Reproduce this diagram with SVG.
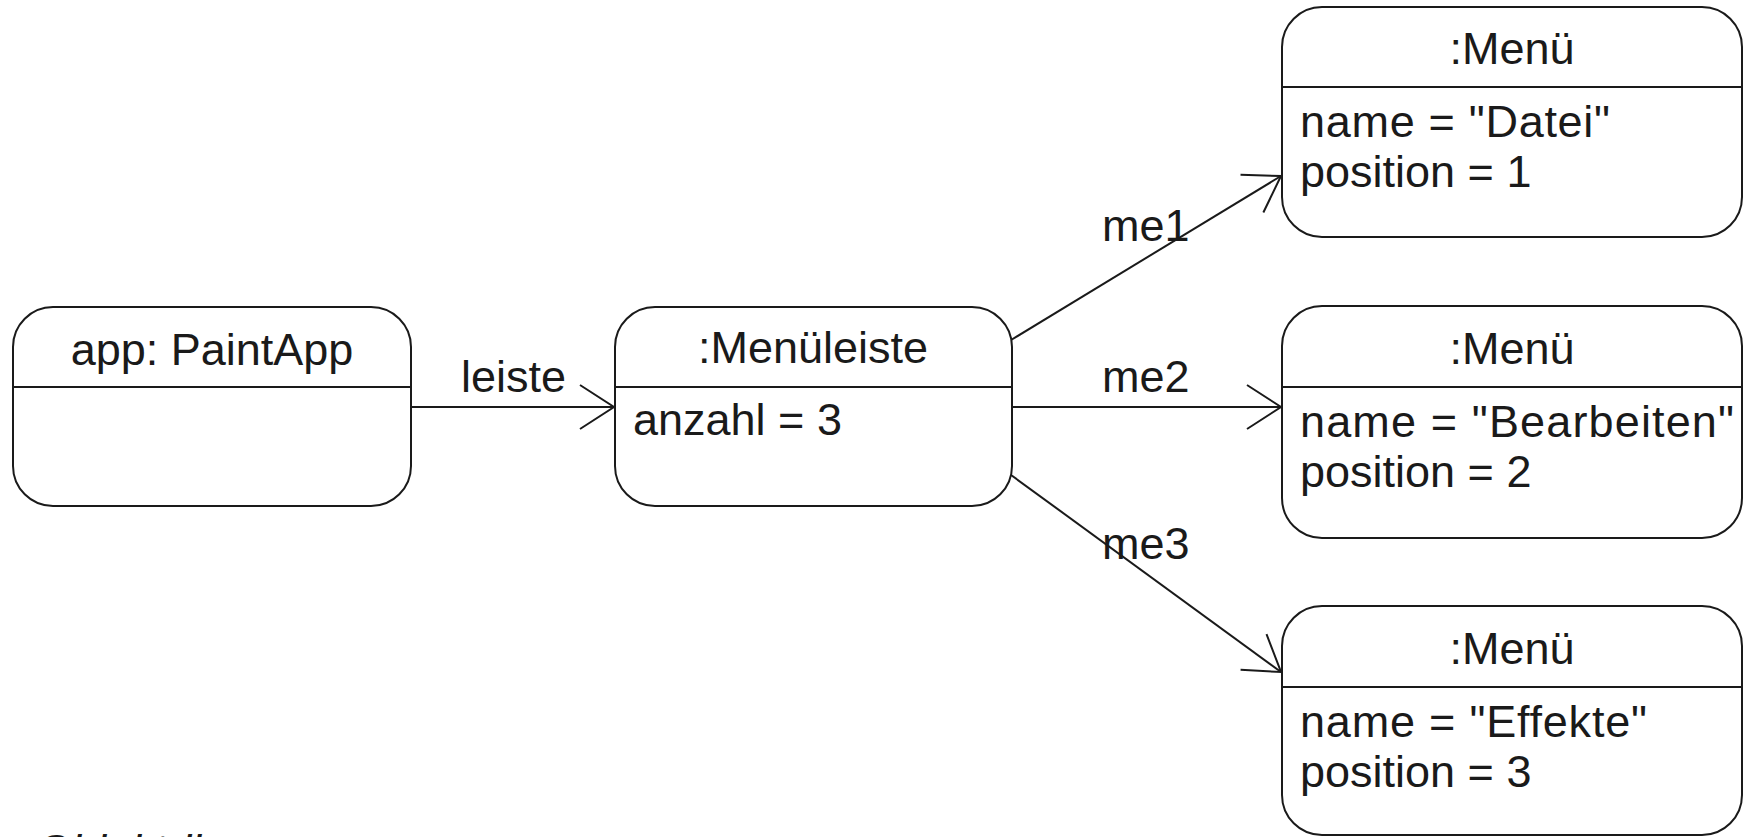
<svg xmlns="http://www.w3.org/2000/svg" width="1743" height="837" viewBox="0 0 1743 837">
  <style>
    .box { fill: #ffffff; stroke: #1a1a1a; stroke-width: 2; }
    .div { stroke: #1a1a1a; stroke-width: 2; }
    .t { font-family: "Liberation Sans", Arial, sans-serif; font-size: 45px; fill: #1a1a1a; }
    .c { text-anchor: middle; }
    .edge { stroke: #1a1a1a; stroke-width: 2; fill: none; marker-end: url(#open); }
  </style>
  <defs>
    <marker id="open" markerUnits="userSpaceOnUse" markerWidth="50" markerHeight="50" refX="0" refY="0" viewBox="-40 -25 44 50" orient="auto" overflow="visible">
      <path d="M -34 -22 L 0 0 L -34 22" fill="none" stroke="#1a1a1a" stroke-width="2"/>
    </marker>
  </defs>
  <rect width="1743" height="837" fill="#ffffff"/>

  <g id="connectors">
    <line class="edge" x1="411" y1="407" x2="614" y2="407"/>
    <line class="edge" x1="1011" y1="340" x2="1281" y2="176"/>
    <line class="edge" x1="1012" y1="407" x2="1281" y2="407"/>
    <line class="edge" x1="1011" y1="475" x2="1281" y2="672"/>
    <text class="t" x="461" y="392">leiste</text>
    <text class="t" x="1102" y="241">me1</text>
    <text class="t" x="1102" y="392">me2</text>
    <text class="t" x="1102" y="559">me3</text>
  </g>

  <g id="app">
    <rect class="box" x="13" y="307" width="398" height="199" rx="40" ry="40"/>
    <line class="div" x1="13" y1="387" x2="411" y2="387"/>
    <text class="t c" x="212" y="365">app: PaintApp</text>
  </g>

  <g id="menueleiste">
    <rect class="box" x="615" y="307" width="397" height="199" rx="40" ry="40"/>
    <line class="div" x1="615" y1="387" x2="1012" y2="387"/>
    <text class="t c" x="813" y="363">:Menüleiste</text>
    <text class="t" x="633" y="435">anzahl = 3</text>
  </g>

  <g id="menue1">
    <rect class="box" x="1282" y="7" width="460" height="230" rx="40" ry="40"/>
    <line class="div" x1="1282" y1="87" x2="1742" y2="87"/>
    <text class="t c" x="1512" y="64">:Menü</text>
    <text class="t" x="1300" y="137" textLength="310" lengthAdjust="spacing">name = "Datei"</text>
    <text class="t" x="1300" y="187">position = 1</text>
  </g>

  <g id="menue2">
    <rect class="box" x="1282" y="306" width="460" height="232" rx="40" ry="40"/>
    <line class="div" x1="1282" y1="387" x2="1742" y2="387"/>
    <text class="t c" x="1512" y="364">:Menü</text>
    <text class="t" x="1300" y="437" textLength="434" lengthAdjust="spacing">name = "Bearbeiten"</text>
    <text class="t" x="1300" y="487">position = 2</text>
  </g>

  <g id="menue3">
    <rect class="box" x="1282" y="606" width="460" height="229" rx="40" ry="40"/>
    <line class="div" x1="1282" y1="687" x2="1742" y2="687"/>
    <text class="t c" x="1512" y="664">:Menü</text>
    <text class="t" x="1300" y="737" textLength="347" lengthAdjust="spacing">name = "Effekte"</text>
    <text class="t" x="1300" y="787">position = 3</text>
  </g>

  <text class="t" x="36" y="866" font-style="italic">Objektdiagramm</text>
</svg>
